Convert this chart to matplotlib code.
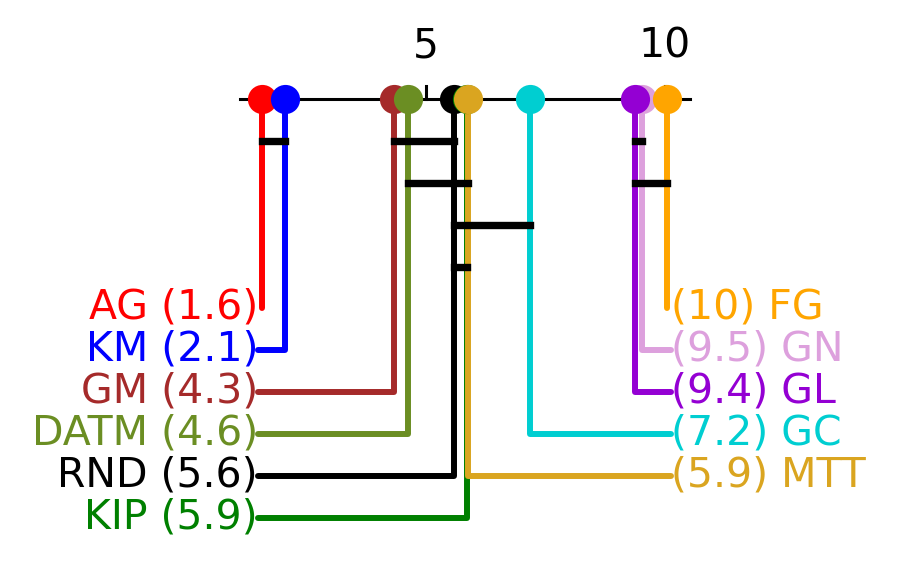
import matplotlib.pyplot as plt

# average ranks per method
methods = ["AG", "KM", "GM", "DATM", "RND", "KIP", "MTT", "GC", "GL", "GN", "FG"]
ranks = [1.57, 2.06, 4.33, 4.62, 5.6, 5.86, 5.88, 7.19, 9.38, 9.52, 10.05]
colors = ["red", "blue", "brown", "olivedrab", "black", "green", "goldenrod",
          "darkturquoise", "darkviolet", "plum", "orange"]

# methods listed on each side, top to bottom
left_side = ["AG", "KM", "GM", "DATM", "RND", "KIP"]
right_side = ["FG", "GN", "GL", "GC", "MTT"]

# groups without significant difference (start, end, level)
cliques = [("AG", "KM", 0), ("GM", "RND", 0), ("DATM", "MTT", 1),
           ("RND", "GC", 2), ("RND", "KIP", 3), ("GL", "GN", 0), ("GL", "FG", 1)]

tick_vals = [5, 10]

rank_of = dict(zip(methods, ranks))
color_of = dict(zip(methods, colors))

fig = plt.figure(figsize=(8.98, 5.71), dpi=100)
ax = fig.add_axes([0, 0, 1, 1])
px = 47.76  # pixels per rank unit
ax.set_xlim(5 - 425.7 / px, 5 + (898 - 425.7) / px)
ax.set_ylim(571, 0)
ax.axis("off")

axis_y = 99
row0, row_step = 308, 42
bar0, bar_step = 141, 42

lo, hi = min(ranks), max(ranks)
ax.plot([lo - 0.46, hi + 0.48], [axis_y, axis_y], color="black", lw=2.2, zorder=1)
for t in tick_vals:
    ax.plot([t, t], [axis_y, axis_y - 13], color="black", lw=2.2, zorder=1)
    ax.text(t, 47, str(t), ha="center", va="center", fontsize=29.5)

left_x = lo - 0.08
right_x = hi + 0.08

def fmt(r):
    return "%.2g" % r

for i, m in enumerate(left_side):
    r = rank_of[m]
    y = row0 + i * row_step
    c = color_of[m]
    if i == 0:
        xs, ys = [r, r], [axis_y, y]
    else:
        xs, ys = [r, r, left_x], [axis_y, y, y]
    ax.plot(xs, ys, color=c, lw=4.3, solid_joinstyle="round", solid_capstyle="round", zorder=2)
    ax.text(left_x, y, "%s (%s)" % (m, fmt(r)), color=c, ha="right", va="center", fontsize=29.5)

for i, m in enumerate(right_side):
    r = rank_of[m]
    y = row0 + i * row_step
    c = color_of[m]
    if i == 0:
        xs, ys = [r, r], [axis_y, y]
    else:
        xs, ys = [r, r, right_x], [axis_y, y, y]
    ax.plot(xs, ys, color=c, lw=4.3, solid_joinstyle="round", solid_capstyle="round", zorder=2)
    ax.text(right_x, y, "(%s) %s" % (fmt(r), m), color=c, ha="left", va="center", fontsize=29.5)

# markers drawn in method order
draw_order = ["AG", "KM", "GM", "DATM", "RND", "KIP", "MTT", "GC", "GN", "GL", "FG"]
for m in draw_order:
    ax.plot(rank_of[m], axis_y, "o", color=color_of[m], ms=21, mew=0, zorder=4)

for a, b, lvl in cliques:
    y = bar0 + lvl * bar_step
    ax.plot([rank_of[a], rank_of[b]], [y, y], color="black", lw=5.3,
            solid_capstyle="projecting", zorder=3)

fig.savefig("out.png", dpi=100)
